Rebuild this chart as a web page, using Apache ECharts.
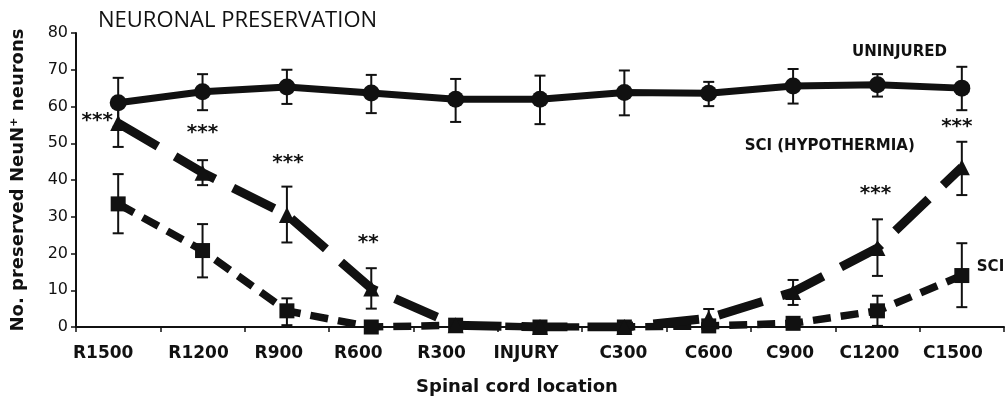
<!DOCTYPE html>
<html><head><meta charset="utf-8">
<script src="https://cdn.jsdelivr.net/npm/echarts@6/dist/echarts.min.js"></script>
<style>html,body{margin:0;padding:0;background:#fff}#c{width:1007px;height:396px}</style>
</head><body><div id="c"></div>
<script>
const categories = ['R1500','R1200','R900','R600','R300','INJURY','C300','C600','C900','C1200','C1500'];
const yTicks = [0,10,20,30,40,50,60,70,80];
const uninjured     = [61, 64, 65.3, 63.7, 62, 62, 63.8, 63.6, 65.6, 65.9, 65];
const uninjuredLow  = [54.5, 59, 60.7, 58.2, 55.8, 55.2, 57.6, 60.1, 60.8, 62.7, 59];
const uninjuredHigh = [67.8, 68.8, 70, 68.6, 67.5, 68.4, 69.8, 66.7, 70.2, 68.8, 70.8];
const hypo     = [55.5, 42, 30.5, 10.5, 0.5, 0, 0, 2.4, 9.5, 21.5, 43.5];
const hypoLow  = [49, 38.6, 23, 5, 0.5, 0, 0, 0, 6, 13.9, 35.9];
const hypoHigh = [61, 45.4, 38.2, 16, 0.5, 0, 0, 4.9, 12.8, 29.3, 50.4];
const sci     = [33.5, 20.8, 4.4, 0, 0.5, 0, 0, 0.3, 1, 4.4, 14];
const sciLow  = [25.5, 13.5, 0.5, 0, 0.5, 0, 0, 0, 1, 0.3, 5.4];
const sciHigh = [41.6, 28, 7.8, 0, 0.5, 0, 0, 0, 1, 8.5, 22.8];
const sigLabels = [
  {cat:'R1500', y:56.2, text:'***', dx:-21},
  {cat:'R1200', y:52.9, text:'***', dx:0},
  {cat:'R900',  y:44.7, text:'***', dx:1},
  {cat:'R600',  y:23,   text:'**',  dx:-3},
  {cat:'C1200', y:36.3, text:'***', dx:-2},
  {cat:'C1500', y:54.5, text:'***', dx:-5}
];
const seriesLabels = [
  {cat:'C1200', y:74.8, text:'UNINJURED', dx:22, align:'center'},
  {cat:'C600',  y:49.3, text:'SCI (HYPOTHERMIA)', dx:121, align:'center'},
  {cat:'C1500', y:16.3, text:'SCI', dx:15, align:'left'}
];
// style only: leftward shift (px) of each x tick label, as in the original figure
const labelShift = [15, 4, 8, 13, 14, 14, 1, 0, 3, 8, 9];

function errSeries(low, high){
  return {
    type:'custom', z:1, silent:true,
    data: categories.map((c,i)=>[i, low[i], high[i]]),
    renderItem:function(params, api){
      const x = api.value(0);
      const lo = api.coord([x, api.value(1)]);
      const hi = api.coord([x, api.value(2)]);
      if (Math.abs(hi[1]-lo[1]) < 1) return {type:'group', children:[]};
      const w = 5.5;
      const st = {stroke:'#111', lineWidth:2};
      return {type:'group', children:[
        {type:'line', shape:{x1:lo[0],y1:lo[1],x2:hi[0],y2:hi[1]}, style:st},
        {type:'line', shape:{x1:lo[0]-w,y1:lo[1],x2:lo[0]+w,y2:lo[1]}, style:st},
        {type:'line', shape:{x1:hi[0]-w,y1:hi[1],x2:hi[0]+w,y2:hi[1]}, style:st}
      ]};
    }
  };
}
function textSeries(items, size){
  return {
    type:'scatter', symbolSize:0, silent:true, z:5,
    itemStyle:{opacity:1},
    data: items.map(it=>({
      value:[it.cat, it.y],
      label:{show:true, formatter:it.text, position:'inside', offset:[it.dx,0],
             align:it.align||'center', verticalAlign:'middle', opacity:1,
             fontFamily:'DejaVu Sans', fontWeight:'bold', fontSize:size, color:'#111'}
    }))
  };
}
const rich = {};
labelShift.forEach((s,i)=>{
  rich['s'+i] = {fontFamily:'DejaVu Sans', fontWeight:'bold', fontSize:17, color:'#111', padding:[0, 2*s, 0, 0]};
});

const chart = echarts.init(document.getElementById('c'), null, {renderer:'canvas'});
chart.setOption({
  animation:false,
  backgroundColor:'#fff',
  title:{text:'NEURONAL PRESERVATION', left:93, top:5,
    textStyle:{fontFamily:'Open Sans', fontWeight:'normal', fontSize:22, color:'#111'}},
  grid:{left:76, right:3, top:33, bottom:69, containLabel:false, outerBoundsMode:'none'},
  xAxis:{type:'category', data:categories, boundaryGap:true,
    axisLine:{lineStyle:{color:'#111', width:2}},
    axisTick:{show:true, length:5, inside:false, lineStyle:{color:'#111', width:1.5}},
    axisLabel:{margin:18, fontFamily:'DejaVu Sans', fontWeight:'bold', fontSize:17, color:'#111', interval:0,
      formatter:(v,i)=>'{s'+i+'|'+v+'}', rich:rich},
    name:'Spinal cord location', nameLocation:'middle', nameGap:51,
    nameTextStyle:{fontFamily:'DejaVu Sans', fontWeight:'bold', fontSize:18, color:'#111', padding:[0,46,0,0]}
  },
  yAxis:{type:'value', min:0, max:80, interval:10,
    axisLine:{show:true, lineStyle:{color:'#111', width:2}},
    axisTick:{show:true, length:5, lineStyle:{color:'#111', width:1.5}},
    splitLine:{show:false},
    axisLabel:{margin:8, fontFamily:'DejaVu Sans', fontSize:16, color:'#111',
      formatter:v=>yTicks.includes(v)?String(v):''},
    name:'No. preserved NeuN\u207A neurons', nameLocation:'middle', nameGap:49, nameRotate:90,
    nameTextStyle:{fontFamily:'DejaVu Sans', fontWeight:'bold', fontSize:18, color:'#111'}
  },
  series:[
    errSeries(uninjuredLow, uninjuredHigh),
    errSeries(hypoLow, hypoHigh),
    errSeries(sciLow, sciHigh),
    {name:'SCI', type:'line', data:sci, z:2, symbol:'rect', symbolSize:15,
      itemStyle:{color:'#111'}, lineStyle:{color:'#111', width:7.5, type:[18,10], cap:'butt'}},
    {name:'SCI (HYPOTHERMIA)', type:'line', data:hypo, z:3, symbol:'triangle', symbolSize:16,
      itemStyle:{color:'#111'}, lineStyle:{color:'#111', width:9, type:[46,20], cap:'butt'}},
    {name:'UNINJURED', type:'line', data:uninjured, z:4, symbol:'circle', symbolSize:17,
      itemStyle:{color:'#111'}, lineStyle:{color:'#111', width:7}},
    textSeries(sigLabels, 20),
    textSeries(seriesLabels, 15)
  ]
});
</script></body></html>
